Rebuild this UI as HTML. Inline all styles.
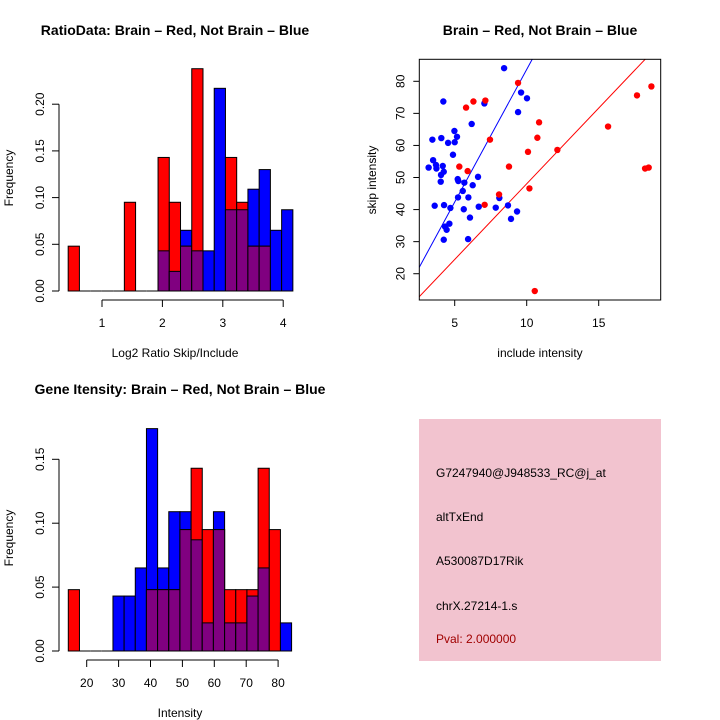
<!DOCTYPE html>
<html><head><meta charset="utf-8"><style>
body{margin:0;background:#fff}
svg{display:block;font-family:"Liberation Sans",sans-serif}
</style></head><body>
<svg id="root" width="720" height="720" viewBox="0 0 720 720">
<rect width="720" height="720" fill="#fff"/>
<g id="p1"></g>
<g id="p2"></g>
<g id="p3"></g>
<g id="p4">
<rect x="419" y="419" width="242" height="242" fill="#f2c3cf"/>
<text x="436" y="477" font-size="12">G7247940@J948533_RC@j_at</text>
<text x="436" y="521" font-size="12">altTxEnd</text>
<text x="436" y="565" font-size="12">A530087D17Rik</text>
<text x="436" y="610" font-size="12">chrX.27214-1.s</text>
<text x="436" y="643" font-size="12" fill="#a00000">Pval: 2.000000</text>
</g>
</svg>
<script>
// Top-left histogram data
const h1Red = [0.048,0,0,0,0,0.095,0,0,0.143,0.095,0.048,0.238,0,0,0.143,0.095,0.048,0.048,0,0];
const h1Blue = [0,0,0,0,0,0,0,0,0.043,0.021,0.065,0.043,0.043,0.217,0.087,0.087,0.109,0.130,0.065,0.087];
const h1Start = 0.44, h1Width = 0.186;
const h1XTicks = [1,2,3,4];
const h1YTicks = [0,0.05,0.10,0.15,0.20];
// Bottom-left histogram data
const h3Red = [0.048,0,0,0,0,0,0,0.048,0.048,0.048,0.095,0.143,0.095,0.095,0.048,0.048,0.048,0.143,0.095,0];
const h3Blue = [0,0,0,0,0.043,0.043,0.065,0.174,0.065,0.109,0.109,0.087,0.022,0.109,0.022,0.022,0.043,0.065,0,0.022];
const h3Start = 14.23, h3Width = 3.5;
const h3XTicks = [20,30,40,50,60,70,80];
const h3YTicks = [0,0.05,0.10,0.15];
// Scatter data
const blueX = [8.43,4.21,7.06,9.61,10.02,9.40,6.18,3.45,4.07,4.98,4.54,5.0,5.16,4.88,3.50,3.19,3.70,3.73,4.17,4.24,4.05,4.03,5.21,5.25,5.67,6.62,6.25,5.56,5.23,5.95,3.61,4.26,4.70,5.63,6.67,7.85,8.10,8.70,6.06,9.33,8.91,4.33,4.44,4.63,4.24,5.93];
const blueY = [84.1,73.7,73.1,76.5,74.7,70.4,66.7,61.8,62.3,64.5,60.8,61.0,62.7,57.1,55.4,53.1,53.9,52.8,53.6,51.8,50.8,48.7,49.5,48.9,48.4,50.2,47.6,45.8,43.8,43.8,41.2,41.4,40.5,40.1,40.9,40.6,43.6,41.3,37.5,39.4,37.1,34.7,33.7,35.6,30.6,30.8];
const redX = [9.40,6.30,7.13,5.79,10.86,10.74,7.45,10.09,12.13,15.65,17.66,18.66,5.32,5.90,8.77,18.22,18.47,10.19,8.08,7.08,10.56];
const redY = [79.5,73.7,74.0,71.8,67.2,62.4,61.8,58.0,58.6,65.9,75.6,78.4,53.4,52.0,53.4,52.8,53.1,46.6,44.7,41.5,14.6];
const blueLine = [1.0, 8.27]; // intercept, slope
const redLine = [0.84, 4.72];
const sXTicks = [5,10,15];
const sYTicks = [20,30,40,50,60,70,80];

const NS = "http://www.w3.org/2000/svg";
function mk(parent, tag, attrs){const e=document.createElementNS(NS,tag);for(const k in attrs)e.setAttribute(k,attrs[k]);parent.appendChild(e);return e;}
function fmt2(v){return v.toFixed(2);}

function histogram(g, red, blue, start, width, xTicks, yTicks, xs, ys, ax, title, xlab){
  const y0 = ys(0);
  for(let i=0;i<red.length;i++){
    const a = start+i*width, b = a+width;
    const x1 = xs(a), x2 = xs(b);
    const r = red[i], bl = blue[i];
    if(bl>0){const e=mk(g,'rect',{x:x1,y:ys(bl),width:x2-x1,height:y0-ys(bl),fill:'#0000ff',stroke:'#000','stroke-width':1});
      
      }
    if(r>0){const e=mk(g,'rect',{x:x1,y:ys(r),width:x2-x1,height:y0-ys(r),fill:'#ff0000',stroke:'#000','stroke-width':1});
      
      }
    const m=Math.min(r,bl);
    if(m>0){const e=mk(g,'rect',{x:x1,y:ys(m),width:x2-x1,height:y0-ys(m),fill:'#800080',stroke:'#000','stroke-width':1});
      
      }
    if(r===0&&bl===0){const e=mk(g,'line',{x1:x1,x2:x2,y1:y0,y2:y0,stroke:'#000','stroke-width':1});
      
      }
  }
  const ya=mk(g,'line',{x1:ax.yx,x2:ax.yx,y1:ys(yTicks[0]),y2:ys(yTicks[yTicks.length-1]),stroke:'#000'});
  
  
  yTicks.forEach(v=>{
    mk(g,'line',{x1:ax.yx-7,x2:ax.yx,y1:ys(v),y2:ys(v),stroke:'#000'});
    const t=mk(g,'text',{x:0,y:0,'font-size':12,'text-anchor':'middle',transform:`translate(${ax.yx-15},${ys(v)}) rotate(-90)`});
    t.textContent=fmt2(v);
    
    
  });
  const xa=mk(g,'line',{x1:xs(xTicks[0]),x2:xs(xTicks[xTicks.length-1]),y1:ax.xy,y2:ax.xy,stroke:'#000'});
  
  
  xTicks.forEach(v=>{
    mk(g,'line',{x1:xs(v),x2:xs(v),y1:ax.xy,y2:ax.xy+7,stroke:'#000'});
    const t=mk(g,'text',{x:xs(v),y:ax.xy+27,'font-size':12,'text-anchor':'middle'});
    t.textContent=v;
    
    
  });
  const tt=mk(g,'text',{x:ax.tx,y:ax.ty,'font-size':14,'font-weight':'bold','text-anchor':'middle'});tt.textContent=title;
  
  
  const xl=mk(g,'text',{x:ax.tx,y:ax.xly,'font-size':12,'text-anchor':'middle'});xl.textContent=xlab;
  
  
  const yl=mk(g,'text',{x:0,y:0,'font-size':12,'text-anchor':'middle',transform:`translate(13,${ax.yly}) rotate(-90)`});yl.textContent='Frequency';
  
  
}

{
  const xs=v=>102+(v-1)*60.4, ys=v=>291-v*934;
  histogram(document.getElementById('p1'),h1Red,h1Blue,h1Start,h1Width,h1XTicks,h1YTicks,xs,ys,
    {yx:59,xy:300,tx:175,ty:35,xly:357,yly:178},'RatioData: Brain \u2013 Red, Not Brain \u2013 Blue','Log2 Ratio Skip/Include');
}
{
  const xs=v=>86.7+(v-20)*3.19, ys=v=>651-v*1278;
  histogram(document.getElementById('p3'),h3Red,h3Blue,h3Start,h3Width,h3XTicks,h3YTicks,xs,ys,
    {yx:59,xy:660,tx:180,ty:394,xly:717,yly:538},'Gene Itensity: Brain \u2013 Red, Not Brain \u2013 Blue','Intensity');
}
{
  const g=document.getElementById('p2');
  const L=419.3,R=660.7,T=59.3,B=300;
  const xs=v=>454.7+(v-5)*14.4, ys=v=>81.3-(v-80)*3.207;
  const xv=px=>(px-454.7)/14.4+5;
  const cp=mk(g,'clipPath',{id:'sc'});mk(cp,'rect',{x:L,y:T,width:R-L,height:B-T});
  [[blueLine,'#0000ff','blue-fit-line'],[redLine,'#ff0000','red-fit-line']].forEach(([ln,c,n])=>{
    const xa=xv(L),xb=xv(R);
    const e=mk(g,'line',{x1:xs(xa),y1:ys(ln[0]+ln[1]*xa),x2:xs(xb),y2:ys(ln[0]+ln[1]*xb),stroke:c,'stroke-width':1,'clip-path':'url(#sc)'});
    
    
  });
  blueX.forEach((x,i)=>{const e=mk(g,'circle',{cx:xs(x),cy:ys(blueY[i]),r:3.2,fill:'#0000ff'});
    
    });
  redX.forEach((x,i)=>{const e=mk(g,'circle',{cx:xs(x),cy:ys(redY[i]),r:3.2,fill:'#ff0000'});
    
    });
  const box=mk(g,'rect',{x:L,y:T,width:R-L,height:B-T,fill:'none',stroke:'#000'});
  
  
  sXTicks.forEach(v=>{mk(g,'line',{x1:xs(v),x2:xs(v),y1:B,y2:B+6,stroke:'#000'});
    const t=mk(g,'text',{x:xs(v),y:B+27,'font-size':12,'text-anchor':'middle'});t.textContent=v;
    
    });
  sYTicks.forEach(v=>{mk(g,'line',{x1:L-6,x2:L,y1:ys(v),y2:ys(v),stroke:'#000'});
    const t=mk(g,'text',{x:0,y:0,'font-size':12,'text-anchor':'middle',transform:`translate(${L-15},${ys(v)}) rotate(-90)`});t.textContent=v;
    
    });
  const tt=mk(g,'text',{x:540,y:35,'font-size':14,'font-weight':'bold','text-anchor':'middle'});tt.textContent='Brain \u2013 Red, Not Brain \u2013 Blue';
  
  
  const xl=mk(g,'text',{x:540,y:357,'font-size':12,'text-anchor':'middle'});xl.textContent='include intensity';
  
  
  const yl=mk(g,'text',{x:0,y:0,'font-size':12,'text-anchor':'middle',transform:'translate(376,180) rotate(-90)'});yl.textContent='skip intensity';
  
  
}
</script>
</body></html>
